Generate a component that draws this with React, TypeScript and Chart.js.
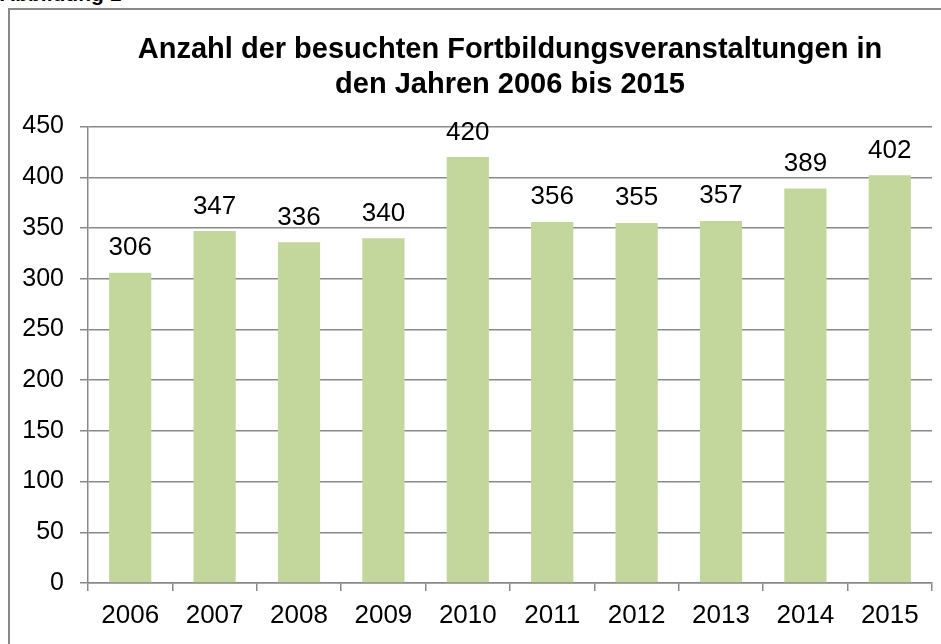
import React, { useEffect, useRef } from "react";
import { Chart, registerables } from "chart.js";

Chart.register(...registerables);

const figureLabel = "Abbildung 1";
const titleLines = [
  "Anzahl der besuchten Fortbildungsveranstaltungen in",
  "den Jahren 2006 bis 2015",
];
const years = ["2006", "2007", "2008", "2009", "2010", "2011", "2012", "2013", "2014", "2015"];
const counts = [306, 347, 336, 340, 420, 356, 355, 357, 389, 402];
const yMin = 0;
const yMax = 450;
const yStep = 50;

const FONT = "'Liberation Sans', Arial, Helvetica, sans-serif";
const GRAY = "#898989";
const BAR = "rgb(195,214,155)";

const valueLabels = {
  id: "valueLabels",
  afterDatasetsDraw(chart: any) {
    const ctx = chart.ctx;
    const meta = chart.getDatasetMeta(0);
    ctx.save();
    ctx.font = `26px ${FONT}`;
    ctx.fillStyle = "#000";
    ctx.textAlign = "center";
    ctx.textBaseline = "alphabetic";
    meta.data.forEach((bar: any, i: number) => {
      ctx.fillText(String(counts[i]), bar.x, bar.y - 17.5);
    });
    ctx.restore();
  },
};

export default function App() {
  const ref = useRef<HTMLCanvasElement | null>(null);

  useEffect(() => {
    if (!ref.current) return;
    const chart = new Chart(ref.current, {
      type: "bar",
      data: {
        labels: years,
        datasets: [
          {
            data: counts,
            backgroundColor: BAR,
            borderWidth: 0,
            barPercentage: 0.5,
            categoryPercentage: 1,
          },
        ],
      },
      options: {
        responsive: false,
        animation: false,
        layout: { padding: { left: 0, right: 9, top: 0, bottom: 0 } },
        plugins: {
          legend: { display: false },
          tooltip: { enabled: false },
          title: {
            display: true,
            fullSize: false,
            text: titleLines,
            color: "#000",
            font: { family: FONT, size: 29, weight: "bold", lineHeight: 1.217 },
            padding: { top: 22, bottom: 24 },
          },
        },
        scales: {
          x: {
            afterFit(scale: any) {
              scale.height = 61;
            },
            grid: {
              display: true,
              drawOnChartArea: false,
              drawTicks: true,
              tickLength: 8,
              color: GRAY,
              lineWidth: 1.5,
              offset: true,
            },
            border: { display: true, color: GRAY, width: 1.5 },
            ticks: {
              color: "#000",
              padding: 9,
              font: { family: FONT, size: 26 },
              maxRotation: 0,
            },
          },
          y: {
            min: yMin,
            max: yMax,
            afterFit(scale: any) {
              scale.width = 78;
            },
            grid: {
              display: true,
              drawOnChartArea: true,
              drawTicks: true,
              tickLength: 8,
              color: GRAY,
              lineWidth: 1.5,
            },
            border: { display: true, color: GRAY, width: 1.5 },
            ticks: {
              stepSize: yStep,
              color: "#000",
              padding: 16,
              font: { family: FONT, size: 25 },
            },
          },
        },
      },
      plugins: [valueLabels],
    } as any);
    return () => chart.destroy();
  }, []);

  return (
    <div
      style={{
        position: "fixed",
        left: 0,
        top: 0,
        width: 941,
        height: 644,
        overflow: "hidden",
        background: "#fff",
      }}
    >
      <div
        style={{
          position: "absolute",
          left: 0,
          top: -17,
          fontFamily: FONT,
          fontWeight: "bold",
          fontSize: 21,
          lineHeight: "21px",
          whiteSpace: "nowrap",
          color: "#000",
        }}
      >
        {figureLabel}
      </div>
      <div
        style={{
          position: "absolute",
          left: 8,
          top: 8,
          width: 1010,
          height: 700,
          border: `2px solid ${GRAY}`,
          boxSizing: "border-box",
        }}
      />
      <canvas
        ref={ref}
        width={931}
        height={634}
        style={{ position: "absolute", left: 10, top: 10, width: 931, height: 634 }}
      />
    </div>
  );
}
